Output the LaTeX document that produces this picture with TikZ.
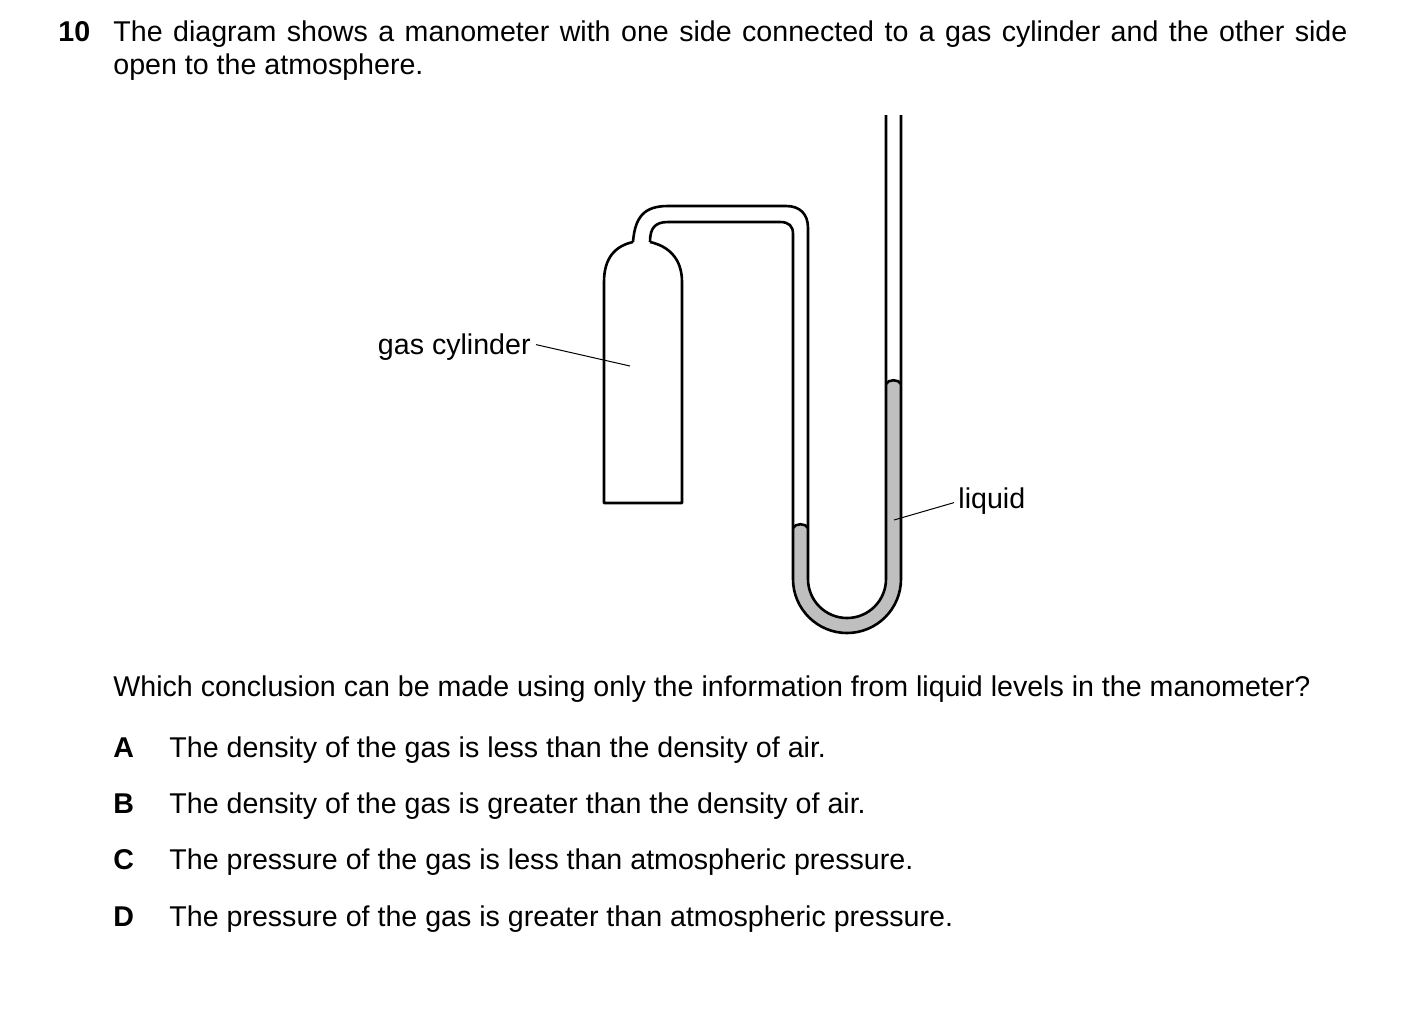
\documentclass[tikz,border=0pt]{standalone}
\usepackage{fontspec}
\setmainfont{Liberation Sans}
\tikzset{
  wall/.style={line width=1.3pt, line join=round},
  lead/.style={line width=0.5pt},
  txt/.style={anchor=base west, inner sep=0pt, font=\fontsize{14.3}{16.5}\selectfont},
}
\definecolor{liquidgray}{gray}{0.75}
\begin{document}
\begin{tikzpicture}[x=0.5pt, y=-0.5pt]
\useasboundingbox (0,0) rectangle (1403,1025);
% question
\node[txt] (num) at (58,41) {\textbf{10}};
\node[txt, text width=617pt, align=justify] (stem) at (113,41) {The diagram shows a manometer with one side connected to a gas cylinder and the other side open to the atmosphere.};
% liquid
\fill[liquidgray] (793,528) -- (793,579) arc[start angle=180, end angle=0, radius=54]
  -- (901,384) .. controls (899,379) and (888,379) .. (886,384)
  -- (886,579) arc[start angle=0, end angle=180, radius=39]
  -- (808,528) .. controls (806,523) and (795,523) .. (793,528);
\draw[wall] (808,528) .. controls (806,523) and (795,523) .. (793,528);
\draw[wall] (901,384) .. controls (899,379) and (888,379) .. (886,384);
% cylinder
\draw[wall] (633,242) .. controls (615,246) and (604,258) .. (604,282) -- (604,503)
  -- (682,503) -- (682,282) .. controls (682,258) and (668,246) .. (650,242);
% tube
\draw[wall] (633,242) .. controls (635,216) and (645,206) .. (668,206) -- (786,206)
  .. controls (800,206) and (808,214) .. (808,228) -- (808,579)
  arc[start angle=180, end angle=0, radius=39] -- (886,115);
\draw[wall] (650,242) .. controls (650,228) and (655,222) .. (668,222) -- (780,222)
  .. controls (789,222) and (793,226) .. (793,234) -- (793,579)
  arc[start angle=180, end angle=0, radius=54] -- (901,115);
% labels
\node[txt, anchor=base east] (gas) at (531,354) {gas cylinder};
\coordinate (gasend) at (630,366);
\draw[lead] (gas.east) ++(5,-2) -- (gasend);
\node[txt] (liq) at (958,508) {liquid};
\coordinate (liqend) at (894,520);
\draw[lead] (liq.west) ++(-4,2) -- (liqend);
% answers
\node[txt] (quest) at (113,696) {Which conclusion can be made using only the information from liquid levels in the manometer?};
\foreach \l/\t/\y in {A/The density of the gas is less than the density of air./757,
  B/The density of the gas is greater than the density of air./813,
  C/The pressure of the gas is less than atmospheric pressure./869,
  D/The pressure of the gas is greater than atmospheric pressure./926} {
  \node[txt] (key\l) at (113,\y) {\textbf{\l}};
  \node[txt] (opt\l) at (169,\y) {\t};
}
\end{tikzpicture}
\end{document}
